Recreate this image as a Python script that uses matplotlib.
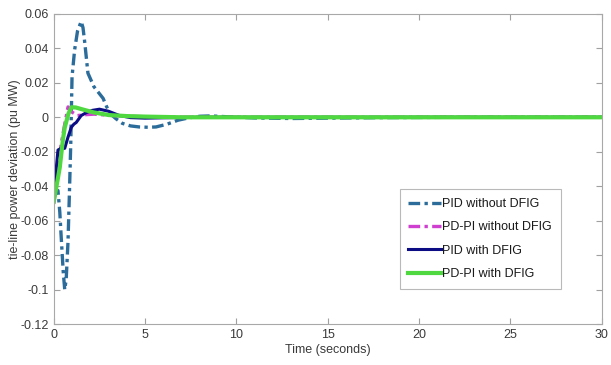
import numpy as np
import matplotlib.pyplot as plt

plt.rcParams['font.family'] = ['Liberation Sans', 'DejaVu Sans']

# PID without DFIG
t_pid = [0, 0.1, 0.23, 0.33, 0.42, 0.52, 0.6, 0.68, 0.78, 0.87, 0.93, 1.0, 1.14, 1.3,
         1.5, 1.6, 1.7, 1.87, 2.2, 2.7, 2.9, 3.1, 3.4, 3.75, 4.2, 4.67, 5.2, 5.6, 6.2,
         6.8, 7.4, 8.0, 8.6, 9.5, 11, 13, 15, 18, 22, 30]
y_pid = [-0.042, -0.044, -0.0425, -0.055, -0.072, -0.09, -0.1, -0.094, -0.072, -0.039,
         -0.015, 0.0235, 0.039, 0.05, 0.0556, 0.052, 0.043, 0.0256, 0.0177, 0.011,
         0.006, 0.002, -0.0008, -0.0035, -0.005, -0.0056, -0.0058, -0.0056, -0.004,
         -0.0017, -0.0003, 0.0006, 0.0008, 0.0003, -0.0004, -0.0007, -0.0005, -0.0002,
         0.0, 0.0]

# PD-PI without DFIG
t_pdpi = [0, 0.2, 0.4, 0.6, 0.78, 1.0, 1.3, 1.7, 2.2, 3.0, 4.0, 5.5, 8.0, 30]
y_pdpi = [-0.05, -0.031, -0.016, -0.004, 0.006, 0.003, 0.001, 0.0015, 0.0018, 0.0012,
          0.0006, 0.0002, 0.0, 0.0]

# PID with DFIG
t_pid_dfig = [0, 0.08, 0.15, 0.23, 0.4, 0.6, 0.78, 0.96, 1.1, 1.23, 1.5, 1.8, 2.1, 2.5,
              3.0, 3.6, 4.2, 5.0, 6.0, 8.0, 30]
y_pid_dfig = [-0.047, -0.039, -0.028, -0.019, -0.018, -0.018, -0.0115, -0.0058, -0.004,
              -0.003, 0.001, 0.0028, 0.004, 0.0047, 0.0035, 0.001, -0.0002, -0.0005,
              -0.0003, 0.0, 0.0]

# PD-PI with DFIG
t_pdpi_dfig = [0, 0.15, 0.33, 0.5, 0.6, 0.8, 0.96, 1.2, 1.6, 2.2, 3.0, 4.0, 5.0, 7.0, 30]
y_pdpi_dfig = [-0.049, -0.04, -0.029, -0.013, -0.006, 0.002, 0.0058, 0.0057, 0.0045,
               0.0028, 0.0013, 0.0007, 0.0004, 0.0, 0.0]

x_ticks = [0, 5, 10, 15, 20, 25, 30]
y_ticks = [-0.12, -0.1, -0.08, -0.06, -0.04, -0.02, 0, 0.02, 0.04, 0.06]
y_tick_labels = ['-0.12', '-0.1', '-0.08', '-0.06', '-0.04', '-0.02', '0', '0.02', '0.04', '0.06']


fig = plt.figure(figsize=(6.11, 3.65), dpi=100)
ax = fig.add_axes([0.088, 0.112, 0.897, 0.850])

dashdot = (0, (3.5, 1.3, 1, 1.3))
ax.plot(t_pid, y_pid, linestyle=dashdot, color='#2b6c9a', lw=2.4,
        label='PID without DFIG')
ax.plot(t_pdpi, y_pdpi, linestyle=dashdot, color='#d040d0', lw=2.4,
        label='PD-PI without DFIG')
ax.plot(t_pid_dfig, y_pid_dfig, color='#0c0c85', lw=2.2, label='PID with DFIG')
ax.plot(t_pdpi_dfig, y_pdpi_dfig, color='#4fd840', lw=3.0, label='PD-PI with DFIG')

ax.set_xlim(0, 30)
ax.set_ylim(-0.12, 0.06)
ax.set_xticks(x_ticks)
ax.set_yticks(y_ticks)
ax.set_yticklabels(y_tick_labels)
ax.tick_params(direction='in', top=True, right=True, labelsize=9, colors='#a0a0a0',
               labelcolor='#3a3a3a', length=4)
for s in ax.spines.values():
    s.set_color('#a8a8a8')
    s.set_linewidth(0.8)

ax.set_xlabel('Time (seconds)', fontsize=9, color='#3a3a3a', labelpad=2)
ax.set_ylabel('tie-line power deviation (pu MW)', fontsize=9, color='#3a3a3a', labelpad=0)

leg = ax.legend(loc='center', bbox_to_anchor=(0.778, 0.274), fontsize=9, frameon=True,
                fancybox=False, edgecolor='#a8a8a8', handlelength=2.6, handletextpad=0.1,
                labelspacing=0.9, borderpad=0.7, borderaxespad=0)
leg.get_frame().set_linewidth(0.8)
for txt in leg.get_texts():
    txt.set_color('#1a1a1a')

fig.savefig('out.png', dpi=100)
